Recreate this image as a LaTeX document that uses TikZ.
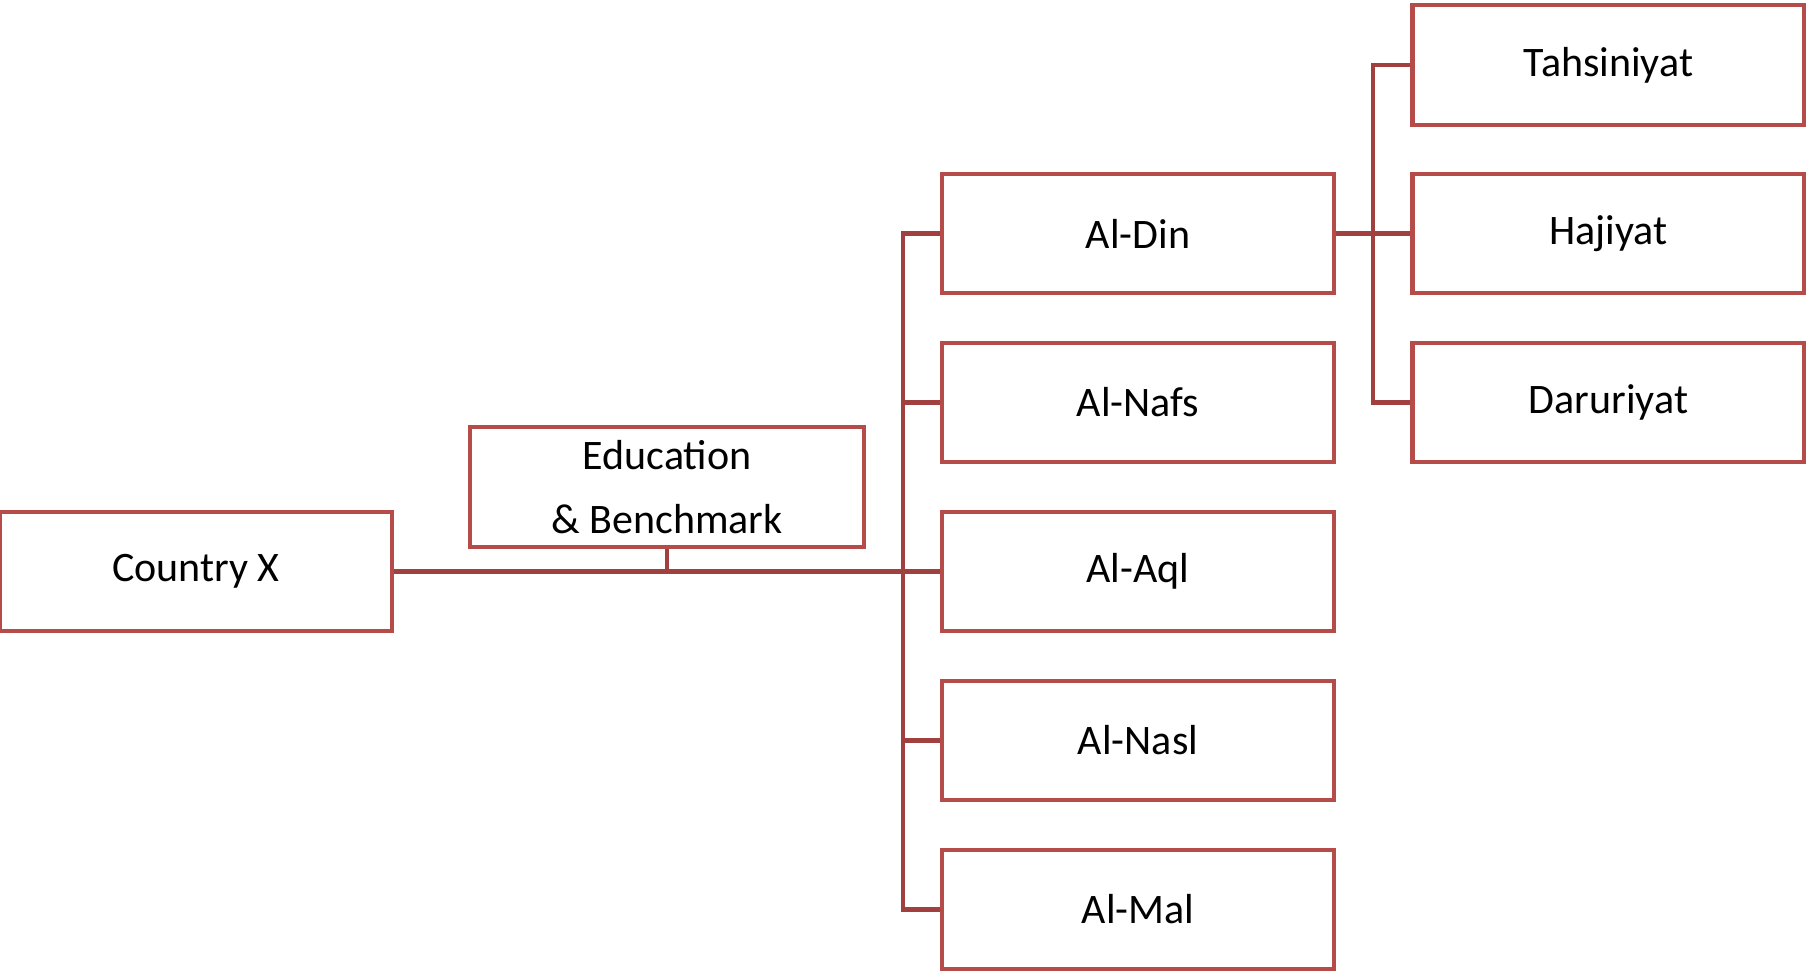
\documentclass[tikz,border=0pt]{standalone}
\usepackage{fontspec}
\setmainfont{Carlito}
\usepackage{tikz}
\definecolor{boxred}{RGB}{181,76,74}
\definecolor{linkred}{RGB}{160,64,63}

\begin{document}
\begin{tikzpicture}[x=0.5pt,y=-0.5pt,
    every node/.style={draw=boxred,line width=2.4pt,fill=white,minimum width=196pt,minimum height=59.5pt,inner sep=0,font=\fontsize{21}{32}\selectfont,align=center},
    link/.style={draw=linkred,line width=2.4pt}]
        \useasboundingbox (0,0) rectangle (1806,973);
        % tree, left to right
        \node (cx) at (196,571.5) {Country X};
        \node[minimum width=197pt,minimum height=60pt] (edu) at (667,487) {Education\\\& Benchmark};
        \node (din) at (1138,233.5) {Al-Din};
        \node (nafs) at (1138,402.5) {Al-Nafs};
        \node (aql) at (1138,571.5) {Al-Aql};
        \node (nasl) at (1138,740.5) {Al-Nasl};
        \node (mal) at (1138,909.5) {Al-Mal};
        \node[minimum height=60pt] (tah) at (1608.5,65) {Tahsiniyat};
        \node (haj) at (1608.5,233.5) {Hajiyat};
        \node (dar) at (1608.5,402.5) {Daruriyat};
        \coordinate (bus) at (903,571.5);
        \coordinate (rbus) at (1373,233.5);
        \draw[link,line width=2.8pt] (cx.east) -- (aql.west);
        \draw[link] (edu.south) -- (edu.south |- cx.east);
        \draw[link] (din.west) -| (bus) |- (mal.west);
        \foreach \n in {nafs,nasl}
            \draw[link] (\n.west) -- (\n.west -| bus);
        \draw[link] (din.east) -- (haj.west);
        \draw[link] (tah.west) -| (rbus) |- (dar.west);
      \end{tikzpicture}
\end{document}
